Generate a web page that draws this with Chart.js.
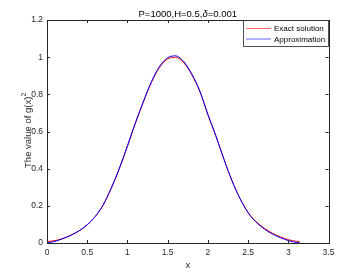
<!DOCTYPE html>
<html><head><meta charset="utf-8">
<script src="https://cdn.jsdelivr.net/npm/chart.js@4.4.1/dist/chart.umd.min.js"></script>
<style>html,body{margin:0;padding:0;background:#fff}#c{display:block}</style>
</head><body>
<canvas id="c" width="364" height="273"></canvas>
<script>
// ---- data ----
const xValues      = [0, 0.1, 0.2, 0.3, 0.4, 0.5, 0.6, 0.7, 0.8, 0.9, 1.0, 1.1, 1.2, 1.3, 1.4, 1.5, 1.6, 1.7, 1.8, 1.9, 2.0, 2.1, 2.2, 2.3, 2.4, 2.5, 2.6, 2.7, 2.8, 2.9, 3.0, 3.1, 3.1416];
const exactValues  = [0.008, 0.013, 0.025, 0.043, 0.066, 0.098, 0.142, 0.205, 0.295, 0.400, 0.520, 0.645, 0.760, 0.865, 0.945, 0.990, 0.999, 0.970, 0.905, 0.815, 0.690, 0.575, 0.450, 0.335, 0.240, 0.165, 0.115, 0.080, 0.053, 0.033, 0.018, 0.009, 0.008];
const approxValues = [0.000, 0.009, 0.024, 0.042, 0.066, 0.098, 0.143, 0.207, 0.297, 0.403, 0.523, 0.648, 0.764, 0.870, 0.951, 0.997, 1.007, 0.976, 0.910, 0.818, 0.693, 0.577, 0.451, 0.335, 0.239, 0.163, 0.112, 0.076, 0.049, 0.029, 0.013, 0.003, 0.001];
const xTicks = [0, 0.5, 1, 1.5, 2, 2.5, 3, 3.5];
const yTicks = [0, 0.2, 0.4, 0.6, 0.8, 1, 1.2];
const seriesNames = ['Exact solution', 'Approximation'];
const seriesColors = ['#ff0000', '#0000ff'];
const titleParts = [['P=1000,H=0.5,', false], ['δ', true], ['=0.001', false]];
const xLabelText = 'x';
const yLabelText = 'The value of g(x)';
const yLabelSup = '2';

const FONT = '"Liberation Sans", Arial, Helvetica, sans-serif';
const AXC = '#262626';

function pts(ys){ return xValues.map((x,i)=>({x:x, y:ys[i]})); }

const decor = {
  id: 'decor',
  afterDraw(chart){
    const ctx = chart.ctx, a = chart.chartArea;
    const xs = chart.scales.x, ys = chart.scales.y;
    ctx.save();
    // box
    ctx.strokeStyle = AXC; ctx.lineWidth = 1;
    ctx.strokeRect(Math.round(a.left)+0.5, Math.round(a.top)+0.5, Math.round(a.right-a.left), Math.round(a.bottom-a.top));
    // inward ticks
    const tl = 3;
    ctx.beginPath();
    xTicks.forEach(v=>{
      const p = Math.round(xs.getPixelForValue(v))+0.5;
      ctx.moveTo(p, a.bottom); ctx.lineTo(p, a.bottom-tl);
      ctx.moveTo(p, a.top); ctx.lineTo(p, a.top+tl);
    });
    yTicks.forEach(v=>{
      const p = Math.round(ys.getPixelForValue(v))+0.5;
      ctx.moveTo(a.left, p); ctx.lineTo(a.left+tl, p);
      ctx.moveTo(a.right, p); ctx.lineTo(a.right-tl, p);
    });
    ctx.stroke();

    // title
    ctx.fillStyle = '#000';
    ctx.textBaseline = 'middle';
    ctx.textAlign = 'left';
    let tw = 0;
    titleParts.forEach(([t,it])=>{ ctx.font = (it?'italic ':'')+'9.5px '+FONT; tw += ctx.measureText(t).width; });
    let tx = (a.left+a.right)/2 - tw/2;
    titleParts.forEach(([t,it])=>{ ctx.font = (it?'italic ':'')+'9.5px '+FONT; ctx.fillText(t, tx, 14); tx += ctx.measureText(t).width; });

    // x label
    ctx.fillStyle = AXC;
    ctx.font = '9.5px '+FONT;
    ctx.textAlign = 'center';
    ctx.fillText(xLabelText, (a.left+a.right)/2, 265);

    // y label (rotated, with superscript)
    ctx.save();
    ctx.translate(30.5, 130.5);
    ctx.rotate(-Math.PI/2);
    ctx.textBaseline = 'alphabetic';
    ctx.textAlign = 'left';
    ctx.font = '9.5px '+FONT;
    const w1 = ctx.measureText(yLabelText).width;
    ctx.font = '6.5px '+FONT;
    const w2 = ctx.measureText(yLabelSup).width;
    const sx = -(w1+w2)/2;
    ctx.font = '9.5px '+FONT;
    ctx.fillText(yLabelText, sx, 0);
    ctx.font = '6.5px '+FONT;
    ctx.fillText(yLabelSup, sx+w1+0.5, -5);
    ctx.restore();

    // legend
    const lx = 243.5, ly = 20.5, lw = 85, lh = 26;
    ctx.fillStyle = '#fff';
    ctx.fillRect(lx, ly, lw, lh);
    ctx.strokeStyle = AXC; ctx.lineWidth = 0.8;
    ctx.strokeRect(lx, ly, lw, lh);
    ctx.font = '8px '+FONT;
    ctx.textAlign = 'left';
    ctx.textBaseline = 'middle';
    const rowsY = [28.5, 39];
    seriesNames.forEach((n,i)=>{
      ctx.strokeStyle = seriesColors[i]; ctx.globalAlpha = 0.6; ctx.lineWidth = 1;
      ctx.beginPath(); ctx.moveTo(246, rowsY[i]); ctx.lineTo(271, rowsY[i]); ctx.stroke();
      ctx.globalAlpha = 1;
      ctx.fillStyle = '#000';
      ctx.fillText(n, 274, rowsY[i]+0.5);
    });
    ctx.restore();
  }
};

new Chart(document.getElementById('c'), {
  type: 'scatter',
  data: {
    datasets: [
      { label: seriesNames[0], data: pts(exactValues), order: 1, showLine: true, borderColor: seriesColors[0], borderWidth: 1, pointRadius: 0, cubicInterpolationMode: 'monotone', fill: false },
      { label: seriesNames[1], data: pts(approxValues), order: 0, showLine: true, borderColor: seriesColors[1], borderWidth: 1, pointRadius: 0, cubicInterpolationMode: 'monotone', fill: false }
    ]
  },
  options: {
    responsive: false,
    animation: false,
    devicePixelRatio: 1,
    layout: { padding: { top: 20, right: 35.5, left: 0, bottom: 0 } },
    plugins: { legend: { display: false }, title: { display: false }, tooltip: { enabled: false } },
    scales: {
      x: {
        type: 'linear', min: 0, max: 3.5,
        afterBuildTicks(s){ s.ticks = xTicks.map(v=>({value:v})); },
        afterFit(s){ s.height = 30; },
        ticks: { font: { family: FONT, size: 8.5 }, color: AXC, padding: 5, maxRotation: 0, autoSkip: false,
                 callback: v => String(+(+v).toFixed(2)) },
        grid: { display: false, drawTicks: false },
        border: { display: false }
      },
      y: {
        type: 'linear', min: 0, max: 1.2,
        afterBuildTicks(s){ s.ticks = yTicks.map(v=>({value:v})); },
        afterFit(s){ s.width = 47; },
        ticks: { font: { family: FONT, size: 8.5 }, color: AXC, padding: 4, autoSkip: false,
                 callback: v => String(+(+v).toFixed(2)) },
        grid: { display: false, drawTicks: false },
        border: { display: false }
      }
    }
  },
  plugins: [decor]
});
</script>
</body></html>
